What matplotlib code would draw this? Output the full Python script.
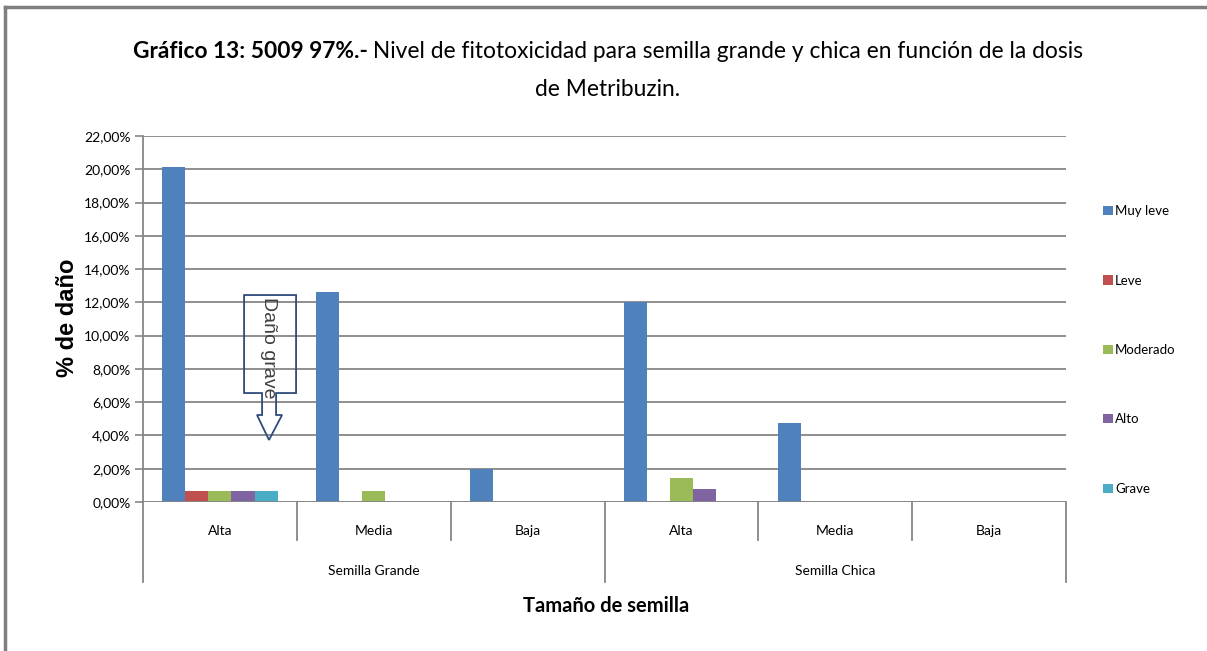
import matplotlib
matplotlib.use('Agg')
import matplotlib.pyplot as plt
import numpy as np
from matplotlib.patches import Polygon
from matplotlib.lines import Line2D
import matplotlib.transforms as mtransforms

NARROW = ['Lato', 'DejaVu Sans']
ARIAL = ['Liberation Sans', 'DejaVu Sans']

series = ['Muy leve', 'Leve', 'Moderado', 'Alto', 'Grave']
colors = ['#4F81BD', '#C0504D', '#9BBB59', '#8064A2', '#4BACC6']
doses = ['Alta', 'Media', 'Baja', 'Alta', 'Media', 'Baja']
groups = ['Semilla Grande', 'Semilla Chica']

# % de daño per category (Alta, Media, Baja | Alta, Media, Baja)
muy_leve = [20.13, 12.61, 2.01, 12.0, 4.76, 0.0]
leve = [0.67, 0.0, 0.0, 0.0, 0.0, 0.0]
moderado = [0.67, 0.67, 0.0, 1.44, 0.0, 0.0]
alto = [0.67, 0.0, 0.0, 0.8, 0.0, 0.0]
grave = [0.67, 0.0, 0.0, 0.0, 0.0, 0.0]
values = [muy_leve, leve, moderado, alto, grave]

W, H = 1207, 651
fig = plt.figure(figsize=(W / 100, H / 100), dpi=100)
ax = fig.add_axes([143 / W, 1 - 502 / H, (1066 - 143) / W, (502 - 136) / H])

n = len(doses)
bw = 0.15
base = np.arange(n)
for k, (name, vals, c) in enumerate(zip(series, values, colors)):
    ax.bar(base + 0.125 + bw * (k + 0.5), vals, width=bw, color=c, label=name, zorder=3)

ax.set_xlim(0, n)
ax.set_ylim(0, 22)
yt = np.arange(0, 23, 2)
ax.set_yticks(yt)
ax.set_yticklabels([f'{v:.2f}%'.replace('.', ',') for v in yt], fontsize=10, family=NARROW)
ax.tick_params(axis='y', length=6, width=1.2, color='#868686', pad=3)
ax.set_xticks([])
ax.grid(axis='y', color='#868686', linewidth=1.3, zorder=0)
for s in ['top', 'right', 'bottom']:
    ax.spines[s].set_visible(False)
ax.spines['left'].set_color('#868686')
ax.spines['left'].set_linewidth(1.3)
ax.axhline(0, color='#868686', linewidth=1.3, zorder=4)

# category axis: two levels of labels and separators
tr = mtransforms.blended_transform_factory(ax.transData, ax.transAxes)
for i in range(n + 1):
    bottom = -0.2186 if i % 3 == 0 else -0.1038
    ax.add_line(Line2D([i, i], [0, bottom], transform=tr, color='#868686', lw=1.3, clip_on=False))
for i, d in enumerate(doses):
    ax.text(i + 0.5, -0.079, d, transform=tr, ha='center', va='center', fontsize=10, family=NARROW)
for g, name in enumerate(groups):
    ax.text(g * 3 + 1.5, -0.189, name, transform=tr, ha='center', va='center', fontsize=10, family=NARROW)

# callout "Daño grave" with arrow
callout = [(0.657, 12.44), (0.995, 12.44), (0.995, 6.55), (0.865, 6.55), (0.865, 5.23),
           (0.904, 5.23), (0.819, 3.73), (0.741, 5.23), (0.774, 5.23), (0.774, 6.55), (0.657, 6.55)]
ax.add_patch(Polygon(callout, closed=True, fill=False, edgecolor='#2F4B7C', lw=1.3, zorder=5))
ax.text(0.819, 9.25, 'Daño grave', rotation=270, ha='center', va='center', fontsize=14,
        color='#404040', family=ARIAL, zorder=6)

# y and x axis titles
fig.text(67 / W, 1 - 318 / H, '% de daño', rotation=90, ha='center', va='center',
         fontsize=17, weight='bold', family=ARIAL)
fig.text(606 / W, 1 - 606 / H, 'Tamaño de semilla', ha='center', va='center',
         fontsize=14.5, weight='bold', family=NARROW)

# legend
fig.legend(loc='upper left', bbox_to_anchor=(1098 / W, 1 - 200 / H), frameon=False,
           prop={'family': NARROW, 'size': 9.5}, handlelength=0.7, handleheight=0.7,
           handletextpad=0.2, labelspacing=4.35, borderaxespad=0)

# title, bold prefix + regular rest, centred
ty1, ty2 = 1 - 51 / H, 1 - 89 / H
t1 = fig.text(0, ty1, 'Gráfico 13: 5009 97%.-', weight='bold', fontsize=16.4, va='center', family=NARROW)
t2 = fig.text(0, ty1, ' Nivel de fitotoxicidad para semilla grande y chica en función de la dosis',
              fontsize=16.4, va='center', family=NARROW)
fig.text(608 / W, ty2, 'de Metribuzin.', fontsize=16.4, ha='center', va='center', family=NARROW)
fig.canvas.draw()
w1 = t1.get_window_extent().width
w2 = t2.get_window_extent().width
x0 = 608 - (w1 + w2) / 2
t1.set_x(x0 / W)
t2.set_x((x0 + w1) / W)

# outer frame (top and left only visible)
fig.add_artist(Line2D([5 / W, 1], [1 - 7 / H, 1 - 7 / H], color='#7F7F7F', lw=2.5))
fig.add_artist(Line2D([5 / W, 5 / W], [0, 1 - 7 / H], color='#7F7F7F', lw=2.5))

fig.savefig('out.png', dpi=100)
